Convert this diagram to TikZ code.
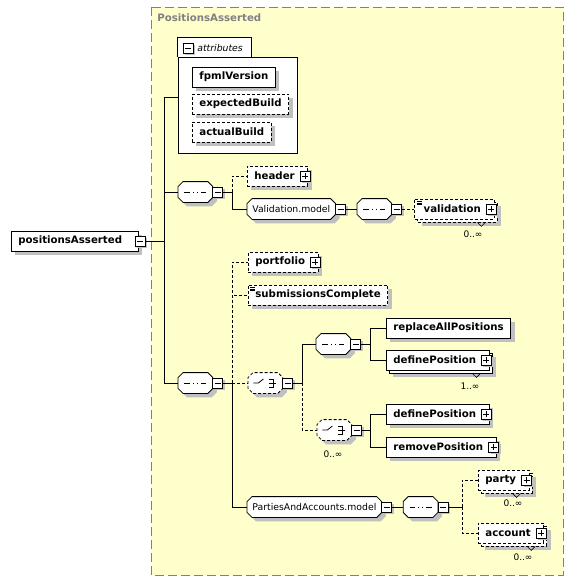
\documentclass[tikz,border=0pt]{standalone}
\usepackage{fontspec}
\setmainfont{DejaVu Sans}
\usetikzlibrary{positioning,shadows}

\definecolor{bgyellow}{RGB}{255,255,204}
\definecolor{shadowgray}{RGB}{192,192,192}
\definecolor{framegray}{RGB}{128,128,128}

% octagon with 5pt chamfers, for the model groups
\makeatletter
\newdimen\octL \newdimen\octR \newdimen\octB \newdimen\octT
\newdimen\octLi \newdimen\octRi \newdimen\octBi \newdimen\octTi
\pgfdeclareshape{octobox}{%
  \inheritsavedanchors[from=rectangle]%
  \inheritanchorborder[from=rectangle]%
  \inheritanchor[from=rectangle]{center}%
  \inheritanchor[from=rectangle]{north}%
  \inheritanchor[from=rectangle]{south}%
  \inheritanchor[from=rectangle]{east}%
  \inheritanchor[from=rectangle]{west}%
  \inheritanchor[from=rectangle]{north east}%
  \inheritanchor[from=rectangle]{north west}%
  \inheritanchor[from=rectangle]{south east}%
  \inheritanchor[from=rectangle]{south west}%
  \backgroundpath{%
    \southwest \octL=\pgf@x \octB=\pgf@y
    \northeast \octR=\pgf@x \octT=\pgf@y
    \octLi=\octL \advance\octLi by 5pt
    \octRi=\octR \advance\octRi by -5pt
    \octBi=\octB \advance\octBi by 5pt
    \octTi=\octT \advance\octTi by -5pt
    \pgfpathmoveto{\pgfpoint{\octLi}{\octB}}%
    \pgfpathlineto{\pgfpoint{\octRi}{\octB}}%
    \pgfpathlineto{\pgfpoint{\octR}{\octBi}}%
    \pgfpathlineto{\pgfpoint{\octR}{\octTi}}%
    \pgfpathlineto{\pgfpoint{\octRi}{\octT}}%
    \pgfpathlineto{\pgfpoint{\octLi}{\octT}}%
    \pgfpathlineto{\pgfpoint{\octL}{\octTi}}%
    \pgfpathlineto{\pgfpoint{\octL}{\octBi}}%
    \pgfpathclose
  }%
}
\makeatother

% room for the plus box at the end of an element
\newcommand{\plusgap}{\kern6pt}

\tikzset{
  dashy/.style={dash pattern=on 3pt off 2pt},
  elembase/.style={draw, fill=white, anchor=west, inner xsep=7pt, inner ysep=0pt,
    minimum height=20pt, font=\bfseries\fontsize{10.2}{12}\selectfont},
  elem/.style={elembase,
    drop shadow={shadow xshift=4pt, shadow yshift=-4pt, fill=shadowgray, opacity=1}},
  manyelem/.style={elembase,
    drop shadow={shadow xshift=7pt, shadow yshift=-7pt, fill=shadowgray, opacity=1},
    copy shadow={shadow xshift=3pt, shadow yshift=-3pt, draw, fill=white}},
  simple/.style={path picture={
    \foreach \k in {2,3.8,5.6}
      \draw[line width=.6pt, solid] ([xshift=2pt,yshift=-\k pt]path picture bounding box.north west) -- ++(5pt,0pt);}},
  grp/.style={shape=octobox, draw, fill=white, anchor=west, inner sep=0pt,
    minimum width=34pt, minimum height=20pt,
    drop shadow={shadow xshift=4pt, shadow yshift=-4pt, fill=shadowgray, opacity=1}},
  seqgrp/.style={grp, path picture={
    \draw ([xshift=-11pt]path picture bounding box.center) -- ([xshift=11pt]path picture bounding box.center);
    \foreach \d in {-4,0,4}
      \fill ([xshift=\d pt]path picture bounding box.center) +(-1.5pt,-1.5pt) rectangle +(1.5pt,1.5pt);}},
  choicegrp/.style={grp, dashy, path picture={
    \coordinate (pc) at (path picture bounding box.center);
    \draw[solid] ([xshift=-12pt]pc) -- ([xshift=-7pt]pc) -- ([xshift=-2pt,yshift=4pt]pc);
    \foreach \d in {-4,0,4}
      \fill ([xshift=2pt,yshift=\d pt]pc) +(-1.3pt,-1.3pt) rectangle +(1.3pt,1.3pt);
    \draw[solid] ([xshift=4pt,yshift=4pt]pc) -- ([xshift=8pt,yshift=4pt]pc) -- ([xshift=8pt,yshift=-4pt]pc) -- ([xshift=4pt,yshift=-4pt]pc);
    \draw[solid] ([xshift=4pt]pc) -- ([xshift=11pt]pc);}},
  model/.style={shape=octobox, draw, fill=white, anchor=west, inner xsep=5pt, inner ysep=0pt,
    minimum height=20pt, font=\fontsize{9.3}{11}\selectfont,
    drop shadow={shadow xshift=4pt, shadow yshift=-4pt, fill=shadowgray, opacity=1}},
  tog/.style={draw, fill=white, solid, inner sep=0pt, minimum size=10pt,
    drop shadow={shadow xshift=2pt, shadow yshift=-2pt, fill=shadowgray, opacity=1},
    path picture={\draw ([xshift=-3pt]path picture bounding box.center) -- ([xshift=3pt]path picture bounding box.center);}},
  togp/.style={tog, path picture={
    \draw ([xshift=-3pt]path picture bounding box.center) -- ([xshift=3pt]path picture bounding box.center);
    \draw ([yshift=-3pt]path picture bounding box.center) -- ([yshift=3pt]path picture bounding box.center);}},
  mult/.style={inner sep=0pt, font=\fontsize{9}{10}\selectfont},
}

\newcommand{\notch}[1]{\draw[solid, line width=.6pt] ([xshift=-17pt,yshift=-3pt]#1.south east) -- ++(4pt,-4pt) -- ++(4pt,4pt);}

\begin{document}
\begin{tikzpicture}[x=1pt, y=-1pt, line width=0.8pt]
\useasboundingbox (0,0) rectangle (572,581);

% complex type area
\fill[bgyellow] (151,7) rectangle (563,575);
\draw[framegray, dash pattern=on 9pt off 4pt] (151,7) rectangle (563,575);
\node[anchor=west, inner sep=0pt, text=framegray, font=\bfseries\fontsize{10.2}{12}\selectfont] (title) at (157,18) {PositionsAsserted};

% attributes
\node[draw, fill=white, inner sep=0pt, minimum width=119pt, minimum height=96pt] (attr) at (237.5,105) {};
\draw[fill=white] (attr.north west) -- ++(0,-19) -- ++(74,0) -- ++(0,19);
\node[tog] (attrTog) at (188,48) {};
\node[anchor=west, inner sep=0pt, font=\itshape\fontsize{9.3}{11}\selectfont] (attrLabel) at (197,48) {attributes};
\node[elem] (fpml) at (192,77) {fpmlVersion};
\node[elem, dashy] (expBuild) at (192,104) {expectedBuild};
\node[elem, dashy] (actBuild) at (192,132) {actualBuild};

% root element
\node[elem] (root) at (11,241) {positionsAsserted\kern9pt};
\node[tog] (rootTog) at ([xshift=2pt]root.east) {};

% trunk
\coordinate (trunkTop) at (164,97);
\coordinate (trunkBot) at (164,383);
\draw (trunkTop) -- (trunkBot);
\draw (trunkTop) -- (attr.west |- trunkTop);
\draw (rootTog.east) -- (rootTog.east -| trunkTop);

% first sequence
\node[seqgrp] (seqA) at (178,192) {};
\node[tog] (seqATog) at ([xshift=5pt]seqA.east) {};
\draw (seqA.west -| trunkTop) -- (seqA.west);
\coordinate (brA) at (232,192);
\draw (seqATog.east) -- (brA);
\node[elem, dashy] (header) at (247,176) {header\plusgap};
\node[togp] (headerTog) at ([xshift=-3pt]header.east) {};
\node[model] (valModel) at (247,209) {Validation.model};
\node[tog] (valModelTog) at ([xshift=5pt]valModel.east) {};
\draw[dashy] (brA) |- (header.west);
\draw (brA) |- (valModel.west);

\node[seqgrp, right=11pt of valModelTog] (seqB) {};
\node[tog] (seqBTog) at ([xshift=5pt]seqB.east) {};
\draw (valModelTog.east) -- (seqB.west);
\node[manyelem, dashy, simple, right=12pt of seqBTog] (valid) {\kern2pt validation\plusgap};
\node[togp] (validTog) at ([xshift=-3pt]valid.east) {};
\draw[dashy] (seqBTog.east) -- (valid.west);
\notch{valid}
\node[mult] (validMult) at (473,234) {0..∞};

% second sequence
\node[seqgrp] (seqC) at (178,383) {};
\node[tog] (seqCTog) at ([xshift=5pt]seqC.east) {};
\draw (seqC.west -| trunkTop) -- (seqC.west);
\coordinate (brB) at (232,383);
\draw (seqCTog.east) -- (brB);
\node[elem, dashy] (portfolio) at (248,262) {portfolio\plusgap};
\node[togp] (portfolioTog) at ([xshift=-3pt]portfolio.east) {};
\node[elem, dashy, simple] (subm) at (248,295) {submissionsComplete};
\node[choicegrp] (choiceA) at (248,383) {};
\node[tog] (choiceATog) at ([xshift=5pt]choiceA.east) {};
\node[model] (pam) at (247,507) {PartiesAndAccounts.model};
\node[tog] (pamTog) at ([xshift=5pt]pam.east) {};
\draw[dashy] (brB) |- (portfolio.west);
\draw[dashy] (brB) |- (subm.west);
\draw[dashy] (brB) -- (choiceA.west);
\draw (brB) |- (pam.west);

% choice of positions
\coordinate (brC) at (302,383);
\draw (choiceATog.east) -- (brC);
\node[seqgrp] (seqD) at (316,344) {};
\node[tog] (seqDTog) at ([xshift=5pt]seqD.east) {};
\node[choicegrp] (choiceB) at (317,430) {};
\node[tog] (choiceBTog) at ([xshift=5pt]choiceB.east) {};
\node[mult] (choiceBMult) at (333,454) {0..∞};
\draw (brC) |- (seqD.west);
\draw[dashy] (brC) |- (choiceB.west);

\coordinate (brD) at (370,344);
\draw (seqDTog.east) -- (brD);
\node[elem] (replAll) at (386,328) {replaceAllPositions};
\node[manyelem] (defPosA) at (386,360) {definePosition\plusgap};
\node[togp] (defPosATog) at ([xshift=-3pt]defPosA.east) {};
\notch{defPosA}
\node[mult] (defPosAMult) at (470,386) {1..∞};
\draw (brD) |- (replAll.west);
\draw (brD) |- (defPosA.west);

\coordinate (brE) at (370,430);
\draw (choiceBTog.east) -- (brE);
\node[elem] (defPosB) at (386,414) {definePosition\plusgap};
\node[togp] (defPosBTog) at ([xshift=-3pt]defPosB.east) {};
\node[elem] (remPos) at (386,447) {removePosition\plusgap};
\node[togp] (remPosTog) at ([xshift=-3pt]remPos.east) {};
\draw (brE) |- (defPosB.west);
\draw (brE) |- (remPos.west);

% parties and accounts
\node[seqgrp, right=11pt of pamTog] (seqE) {};
\node[tog] (seqETog) at ([xshift=5pt]seqE.east) {};
\draw (pamTog.east) -- (seqE.west);
\coordinate (brF) at (462,507);
\draw (seqETog.east) -- (brF);
\node[manyelem, dashy] (party) at (478,480) {party\plusgap};
\node[togp] (partyTog) at ([xshift=-3pt]party.east) {};
\notch{party}
\node[mult] (partyMult) at (513,503) {0..∞};
\node[manyelem, dashy] (account) at (478,533) {account\plusgap};
\node[togp] (accountTog) at ([xshift=-3pt]account.east) {};
\notch{account}
\node[mult] (accountMult) at (523,557) {0..∞};
\draw[dashy] (brF) |- (party.west);
\draw[dashy] (brF) |- (account.west);
\end{tikzpicture}
\end{document}
